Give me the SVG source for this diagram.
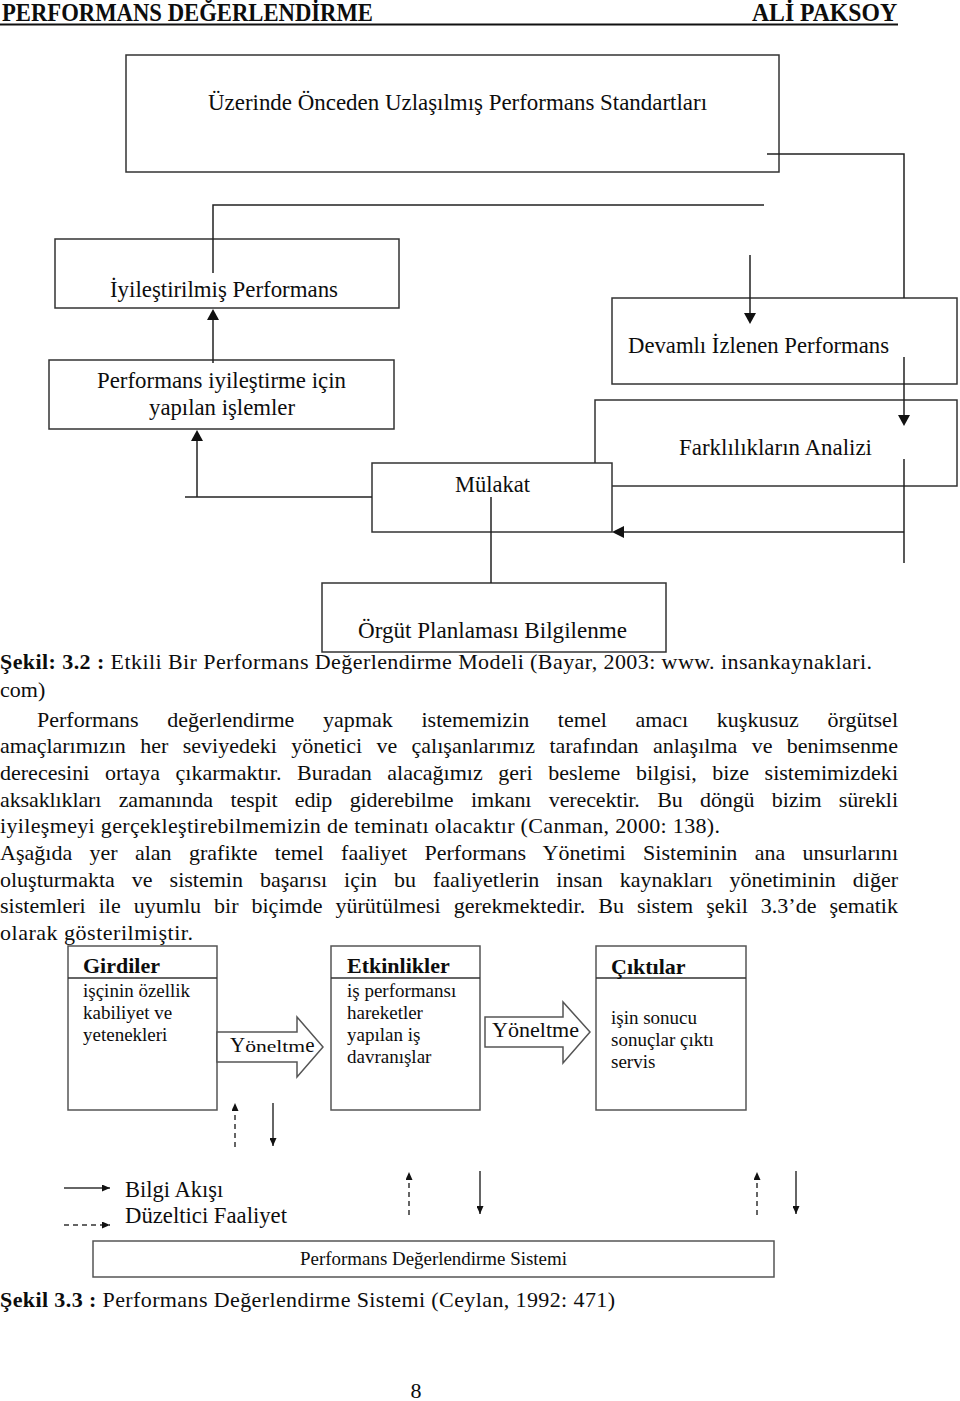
<svg xmlns="http://www.w3.org/2000/svg" width="960" height="1401" viewBox="0 0 960 1401">
<style>
text{font-family:"Liberation Serif","Times New Roman",serif;fill:#0d0d0d;}
.hd{font-size:24.5px;font-weight:bold;}
.body{font-size:22px;}
.b{font-weight:bold;}
.dt{font-size:22.7px;}
.box{fill:#fff;stroke:#333;stroke-width:1.5;}
.box2{fill:#fff;stroke:#555;stroke-width:1.5;}
.ln{fill:none;stroke:#222;stroke-width:1.5;}
.sl{fill:none;stroke:#333;stroke-width:1.5;}
.dl{fill:none;stroke:#333;stroke-width:1.5;stroke-dasharray:5 4;}
.ah{fill:#111;}
.bt{font-size:19px;}
.bh{font-size:22px;font-weight:bold;}
</style>
<defs>
<marker id="sm" viewBox="0 0 8 7" refX="8" refY="3.5" markerWidth="8" markerHeight="7" markerUnits="userSpaceOnUse" orient="auto"><path d="M0,0 L8,3.5 L0,7 z" fill="#111"/></marker>
</defs>
<rect width="960" height="1401" fill="#fff"/>

<!-- header -->
<g id="header">
<text class="hd" x="2" y="21" textLength="371" lengthAdjust="spacingAndGlyphs">PERFORMANS DEĞERLENDİRME</text>
<text class="hd" x="752" y="21" textLength="145" lengthAdjust="spacingAndGlyphs">ALİ PAKSOY</text>
<line x1="0" y1="24.5" x2="898" y2="24.5" stroke="#111" stroke-width="2"/>
</g>

<!-- Figure 3.2 nodes -->
<g id="n-standartlar">
<rect class="box" x="126" y="55" width="653" height="117"/>
<text class="dt" x="208" y="110" textLength="499" lengthAdjust="spacingAndGlyphs">Üzerinde Önceden Uzlaşılmış Performans Standartları</text>
</g>
<g id="n-iyilestirilmis">
<rect class="box" x="55" y="239" width="344" height="69"/>
<text class="dt" x="110" y="297" textLength="228" lengthAdjust="spacingAndGlyphs">İyileştirilmiş Performans</text>
</g>
<g id="n-islemler">
<rect class="box" x="49" y="360" width="345" height="69"/>
<text class="dt" x="97" y="388" textLength="249" lengthAdjust="spacingAndGlyphs">Performans iyileştirme için</text>
<text class="dt" x="149" y="415" textLength="146" lengthAdjust="spacingAndGlyphs">yapılan işlemler</text>
</g>
<g id="n-devamli">
<rect class="box" x="612" y="298" width="345" height="86"/>
<text class="dt" x="628" y="353" textLength="261" lengthAdjust="spacingAndGlyphs">Devamlı İzlenen Performans</text>
</g>
<g id="n-farklilik">
<rect class="box" x="595" y="400" width="362" height="86"/>
<text class="dt" x="679" y="455" textLength="193" lengthAdjust="spacingAndGlyphs">Farklılıkların Analizi</text>
</g>
<g id="n-mulakat">
<rect class="box" x="372" y="463" width="240" height="69"/>
<text class="dt" x="455" y="492" textLength="75" lengthAdjust="spacingAndGlyphs">Mülakat</text>
</g>
<g id="n-orgut">
<rect class="box" x="322" y="583" width="344" height="69"/>
<text class="dt" x="358" y="638" textLength="269" lengthAdjust="spacingAndGlyphs">Örgüt Planlaması Bilgilenme</text>
</g>

<!-- Figure 3.2 connectors -->
<g id="connectors-32">
<polyline class="ln" points="767,154 904,154 904,298"/>
<line class="ln" x1="904" y1="357" x2="904" y2="416"/>
<polygon class="ah" points="898,415 910,415 904,426"/>
<line class="ln" x1="904" y1="459" x2="904" y2="563"/>
<line class="ln" x1="904" y1="532" x2="622" y2="532"/>
<polygon class="ah" points="624,526 624,538 612,532"/>
<polyline class="ln" points="764,205 213,205 213,273"/>
<line class="ln" x1="750" y1="255" x2="750" y2="315"/>
<polygon class="ah" points="744,313 756,313 750,324"/>
<line class="ln" x1="213" y1="363" x2="213" y2="318"/>
<polygon class="ah" points="207,320 219,320 213,309"/>
<polyline class="ln" points="372,497 185,497"/>
<line class="ln" x1="197" y1="497" x2="197" y2="439"/>
<polygon class="ah" points="191,441 203,441 197,430"/>
<line class="ln" x1="491" y1="497" x2="491" y2="583"/>
</g>

<!-- caption 3.2 and body text -->
<g id="text-body">
<text class="body" x="0" y="669" textLength="872" lengthAdjust="spacing"><tspan class="b">Şekil: 3.2 :</tspan> Etkili Bir Performans Değerlendirme Modeli (Bayar, 2003: www. insankaynaklari.</text>
<text class="body" x="0" y="697">com)</text>
<text class="body" x="37" y="727" word-spacing="23.2" textLength="861" lengthAdjust="spacing">Performans değerlendirme yapmak istememizin temel amacı kuşkusuz örgütsel</text>
<text class="body" x="0" y="753" word-spacing="8.9" textLength="898" lengthAdjust="spacing">amaçlarımızın her seviyedeki yönetici ve çalışanlarımız tarafından anlaşılma ve benimsenme</text>
<text class="body" x="0" y="780" word-spacing="10.1" textLength="898" lengthAdjust="spacing">derecesini ortaya çıkarmaktır. Buradan alacağımız geri besleme bilgisi, bize sistemimizdeki</text>
<text class="body" x="0" y="807" word-spacing="12" textLength="898" lengthAdjust="spacing">aksaklıkları zamanında tespit edip giderebilme imkanı verecektir. Bu döngü bizim sürekli</text>
<text class="body" x="0" y="833" textLength="720" lengthAdjust="spacing">iyileşmeyi gerçekleştirebilmemizin de teminatı olacaktır (Canman, 2000: 138).</text>
<text class="body" x="0" y="860" word-spacing="11.8" textLength="898" lengthAdjust="spacing">Aşağıda yer alan grafikte temel faaliyet Performans Yönetimi Sisteminin ana unsurlarını</text>
<text class="body" x="0" y="887" word-spacing="11.5" textLength="898" lengthAdjust="spacing">oluşturmakta ve sistemin başarısı için bu faaliyetlerin insan kaynakları yönetiminin diğer</text>
<text class="body" x="0" y="913" word-spacing="7.45" textLength="898" lengthAdjust="spacing">sistemleri ile uyumlu bir biçimde yürütülmesi gerekmektedir. Bu sistem şekil 3.3’de şematik</text>
<text class="body" x="0" y="940" textLength="193" lengthAdjust="spacing">olarak gösterilmiştir.</text>
</g>

<!-- Figure 3.3 nodes -->
<g id="n-girdiler">
<rect class="box2" x="68" y="946" width="149" height="164"/>
<line class="sl" x1="68" y1="978" x2="217" y2="978"/>
<text class="bh" x="83" y="973">Girdiler</text>
<text class="bt" x="83" y="997">işçinin özellik</text>
<text class="bt" x="83" y="1019">kabiliyet ve</text>
<text class="bt" x="83" y="1041">yetenekleri</text>
</g>
<g id="n-yoneltme1">
<polygon class="box2" points="217,1032 297,1032 297,1017 323,1047 297,1077 297,1062 217,1062"/>
<text x="230" y="1052"><tspan font-size="21">Y</tspan><tspan font-size="17" textLength="60" lengthAdjust="spacingAndGlyphs">öneltm</tspan><tspan font-size="21">e</tspan></text>
</g>
<g id="n-etkinlikler">
<rect class="box2" x="331" y="946" width="149" height="164"/>
<line class="sl" x1="331" y1="978" x2="480" y2="978"/>
<text class="bh" x="347" y="973">Etkinlikler</text>
<text class="bt" x="347" y="997">iş performansı</text>
<text class="bt" x="347" y="1019">hareketler</text>
<text class="bt" x="347" y="1041">yapılan iş</text>
<text class="bt" x="347" y="1063">davranışlar</text>
</g>
<g id="n-yoneltme2">
<polygon class="box2" points="485,1017 563,1017 563,1002 590,1032 563,1063 563,1047 485,1047"/>
<text x="492" y="1037" font-size="22" textLength="87" lengthAdjust="spacingAndGlyphs">Yöneltme</text>
</g>
<g id="n-ciktilar">
<rect class="box2" x="596" y="946" width="150" height="164"/>
<line class="sl" x1="596" y1="978" x2="746" y2="978"/>
<text class="bh" x="611" y="974">Çıktılar</text>
<text class="bt" x="611" y="1024">işin sonucu</text>
<text class="bt" x="611" y="1046">sonuçlar çıktı</text>
<text class="bt" x="611" y="1068">servis</text>
</g>
<g id="n-pds">
<rect class="box2" x="93" y="1241" width="681" height="36"/>
<text class="bt" x="300" y="1265" textLength="267" lengthAdjust="spacingAndGlyphs">Performans Değerlendirme Sistemi</text>
</g>

<!-- Figure 3.3 connectors -->
<g id="connectors-33">
<line class="dl" x1="235" y1="1147" x2="235" y2="1103" marker-end="url(#sm)"/>
<line class="sl" x1="273" y1="1103" x2="273" y2="1146" marker-end="url(#sm)"/>
<line class="dl" x1="409" y1="1215" x2="409" y2="1172" marker-end="url(#sm)"/>
<line class="sl" x1="480" y1="1171" x2="480" y2="1214" marker-end="url(#sm)"/>
<line class="dl" x1="757" y1="1215" x2="757" y2="1172" marker-end="url(#sm)"/>
<line class="sl" x1="796" y1="1171" x2="796" y2="1214" marker-end="url(#sm)"/>
</g>

<!-- legend -->
<g id="legend">
<line class="sl" x1="64" y1="1188" x2="110" y2="1188" marker-end="url(#sm)"/>
<line class="dl" x1="64" y1="1225" x2="110" y2="1225" marker-end="url(#sm)"/>
<text x="125" y="1197" font-size="22.5">Bilgi Akışı</text>
<text x="125" y="1223" font-size="22.5" textLength="162" lengthAdjust="spacingAndGlyphs">Düzeltici Faaliyet</text>
</g>

<g id="caption-33">
<text class="body" x="0" y="1307" textLength="615" lengthAdjust="spacing"><tspan class="b">Şekil 3.3 :</tspan> Performans Değerlendirme Sistemi (Ceylan, 1992: 471)</text>
</g>
<g id="page">
<text class="body" x="416" y="1398" text-anchor="middle">8</text>
</g>
</svg>
